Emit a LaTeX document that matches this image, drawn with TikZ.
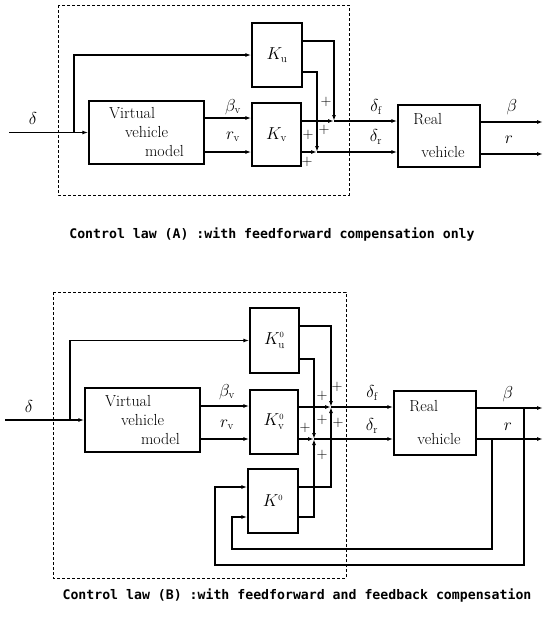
\documentclass[tikz,border=0pt]{standalone}
\usepackage{fontspec}
\newfontfamily\capfont{DejaVu Sans Mono}
\usetikzlibrary{arrows.meta}

\begin{document}
\begin{tikzpicture}[x=1pt,y=-1pt,
		blk/.style={draw,line width=1.4pt,inner sep=0pt,font=\fontsize{16}{19}\selectfont},
		sig/.style={line width=1.2pt,-{Latex[length=6pt,width=4pt]}},
		dbox/.style={line width=1pt,dash pattern=on 3pt off 2pt},
		lbl/.style={inner sep=0pt,font=\fontsize{16}{19}\selectfont},
		pl/.style={inner sep=0pt,font=\fontsize{14}{16}\selectfont},
		capt/.style={inner sep=0pt,font=\capfont\bfseries\fontsize{13.2}{16}\selectfont}]
		\useasboundingbox (0,0) rectangle (544,633);

		\draw[dbox] (58,5) rectangle (349,195);
		\node[blk,minimum width=115pt,minimum height=63pt,align=left] (vvmA) at (146.5,132.5) {Virtual\\\hspace{16pt}vehicle\\\hspace{36pt}model};
		\node[blk,minimum width=50pt,minimum height=64pt] (kuA) at (277,55) {$K_{\mathrm u}$};
		\node[blk,minimum width=49pt,minimum height=63pt] (kvA) at (276.5,134.5) {$K_{\mathrm v}$};
		\node[blk,minimum width=82pt,minimum height=62pt,align=left] (realA) at (439,136) {Real\\[14pt]\hspace{8pt}vehicle};
		\coordinate (inA) at (9,132.5);
		\coordinate (brA) at (74,132.5);
		\coordinate (lbA) at (0,118);
		\coordinate (lrA) at (0,152);
		\coordinate (u1A) at (0,41);
		\coordinate (u2A) at (0,72);
		\coordinate (jfA) at (334,121);
		\coordinate (jrA) at (317,152);
		\coordinate (obA) at (543,122);
		\coordinate (orA) at (543,154);
		\draw[sig] (inA) -- (vvmA.west);
		\draw[sig] (brA) |- (kuA.west);
		\draw[sig] (vvmA.east |- lbA) -- (kvA.west |- lbA);
		\draw[sig] (vvmA.east |- lrA) -- (kvA.west |- lrA);
		\draw[sig] (kvA.east |- jfA) -- (jfA);
		\draw[sig] (kvA.east |- jrA) -- (jrA);
		\draw[sig] (kuA.east |- u1A) -| (jfA);
		\draw[sig] (kuA.east |- u2A) -| (jrA);
		\draw[sig] (jfA) -- (realA.west |- jfA);
		\draw[sig] (jrA) -- (realA.west |- jrA);
		\draw[sig] (realA.east |- obA) -- (obA);
		\draw[sig] (realA.east |- orA) -- (orA);
		\node[lbl] (tdA) at (33,118) {$\delta$};
		\node[lbl] (tbvA) at (233,107) {$\beta_{\mathrm v}$};
		\node[lbl] (trvA) at (233,137) {$r_{\mathrm v}$};
		\node[lbl] (tdfA) at (376,107) {$\delta_{\mathrm f}$};
		\node[lbl] (tdrA) at (376,137) {$\delta_{\mathrm r}$};
		\node[lbl] (tbA) at (512,107) {$\beta$};
		\node[lbl] (trA) at (509,140) {$r$};
		\foreach \px/\py [count=\i] in {326/102, 324/130, 308/135, 307/162}{
			\node[pl] (pA\i) at (\px,\py) {$+$};
		}
		\node[capt] (capA) at (272,235) {Control law (A) :with feedforward compensation only};

		\draw[dbox] (53,292) rectangle (346,578);
		\node[blk,minimum width=115pt,minimum height=64pt,align=left] (vvmB) at (142.5,420) {Virtual\\\hspace{16pt}vehicle\\\hspace{36pt}model};
		\node[blk,minimum width=49pt,minimum height=65pt] (kuB) at (274.5,340.5) {$K^{\scriptscriptstyle 0}_{\mathrm u}$};
		\node[blk,minimum width=48pt,minimum height=64pt] (kvB) at (274,422) {$K^{\scriptscriptstyle 0}_{\mathrm v}$};
		\node[blk,minimum width=50pt,minimum height=64pt] (kB) at (273,501) {$K^{\scriptscriptstyle 0}$};
		\node[blk,minimum width=82pt,minimum height=64pt,align=left] (realB) at (435,423) {Real\\[14pt]\hspace{8pt}vehicle};
		\coordinate (inB) at (5,420);
		\coordinate (brB) at (70,420);
		\coordinate (lbB) at (0,406);
		\coordinate (lrB) at (0,439);
		\coordinate (u1B) at (0,326);
		\coordinate (u2B) at (0,359);
		\coordinate (k1B) at (0,487);
		\coordinate (k2B) at (0,517);
		\coordinate (jfB) at (331,407);
		\coordinate (jrB) at (314,439);
		\coordinate (obB) at (543,408);
		\coordinate (orB) at (543,439);
		\coordinate (tbB) at (524,408);
		\coordinate (trB) at (492,439);
		\coordinate (fb1B) at (215,565);
		\coordinate (fb2B) at (232,549);
		\draw[sig] (inB) -- (vvmB.west);
		\draw[sig] (brB) |- (kuB.west);
		\draw[sig] (vvmB.east |- lbB) -- (kvB.west |- lbB);
		\draw[sig] (vvmB.east |- lrB) -- (kvB.west |- lrB);
		\draw[sig] (kvB.east |- jfB) -- (jfB);
		\draw[sig] (kvB.east |- jrB) -- (jrB);
		\draw[sig] (kuB.east |- u1B) -| (jfB);
		\draw[sig] (kuB.east |- u2B) -| (jrB);
		\draw[sig] (kB.east |- k1B) -| (jfB);
		\draw[sig] (kB.east |- k2B) -| (jrB);
		\draw[sig] (jfB) -- (realB.west |- jfB);
		\draw[sig] (jrB) -- (realB.west |- jrB);
		\draw[sig] (realB.east |- obB) -- (obB);
		\draw[sig] (realB.east |- orB) -- (orB);
		\draw[sig] (tbB) |- (fb1B) |- (kB.west |- k1B);
		\draw[sig] (trB) |- (fb2B) |- (kB.west |- k2B);
		\node[lbl] (tdB) at (29,406) {$\delta$};
		\node[lbl] (tbvB) at (227,392) {$\beta_{\mathrm v}$};
		\node[lbl] (trvB) at (227,425) {$r_{\mathrm v}$};
		\node[lbl] (tdfB) at (372,393) {$\delta_{\mathrm f}$};
		\node[lbl] (tdrB) at (372,426) {$\delta_{\mathrm r}$};
		\node[lbl] (tbB) at (508,394) {$\beta$};
		\node[lbl] (trB) at (508,427) {$r$};
		\foreach \px/\py [count=\i] in {337/387, 322/396, 322/420, 338/423, 305/428, 322/455}{
			\node[pl] (pB\i) at (\px,\py) {$+$};
		}
		\node[capt] (capB) at (297,595) {Control law (B) :with feedforward and feedback compensation};
	\end{tikzpicture}
\end{document}
